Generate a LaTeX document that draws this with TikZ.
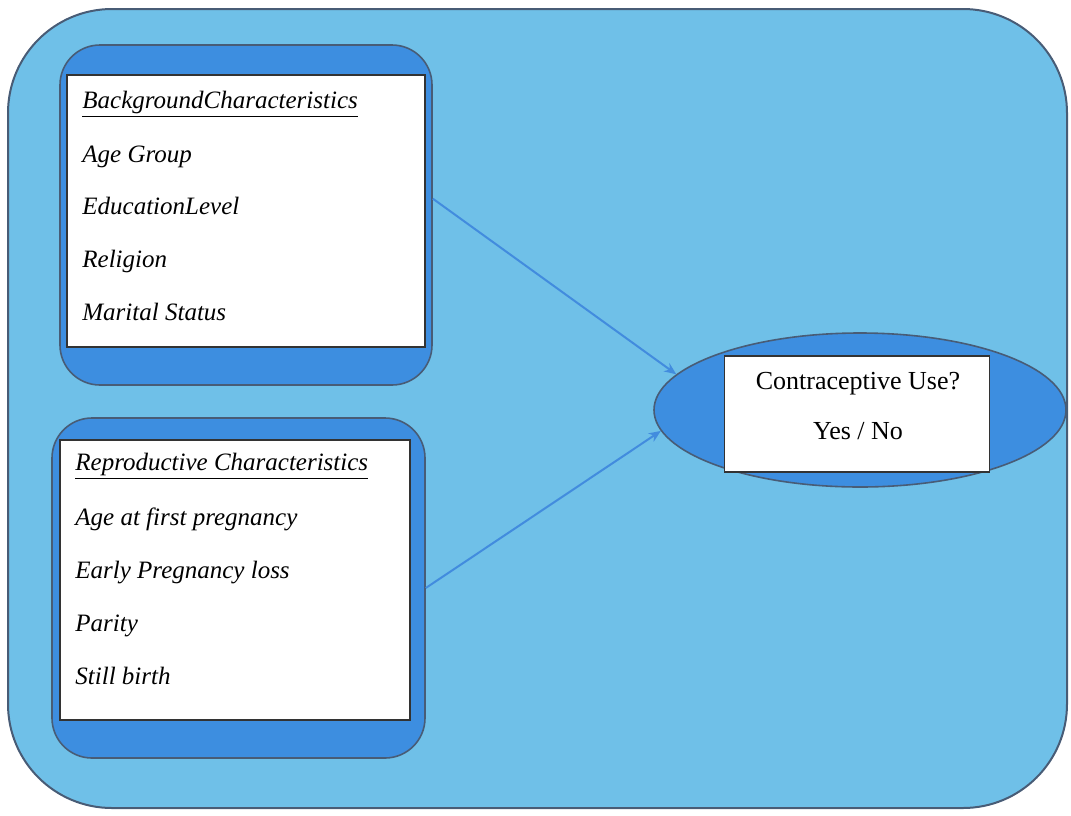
\documentclass[tikz,border=0pt]{standalone}
\usepackage{fontspec}
\setmainfont{Liberation Serif}
\usepackage{tikz}
\usetikzlibrary{positioning, shapes.geometric, arrows.meta}
\definecolor{skyfill}{RGB}{111,192,232}
\definecolor{groupfill}{RGB}{61,142,224}
\definecolor{edgegray}{RGB}{72,92,118}
\definecolor{arrowblue}{RGB}{66,140,222}
\tikzset{
	groupbox/.style={draw=edgegray, line width=0.8pt, fill=groupfill, rounded corners=20pt, inner sep=0pt}
}
\tikzset{
	whitebox/.style={draw=black!80, line width=0.8pt, fill=white, inner sep=0pt}
}
\tikzset{
	itemtext/.style={anchor=base west, inner sep=0pt, font=\fontsize{12.5}{15}\selectfont\itshape}
}
\tikzset{
	link/.style={draw=arrowblue, line width=1pt, -{Stealth[length=6pt,width=5pt]}}
}

\begin{document}
\begin{tikzpicture}[x=0.5pt, y=-0.5pt]
      \useasboundingbox (0,0) rectangle (1071,815);
      \draw[draw=edgegray, line width=1pt, fill=skyfill, rounded corners=52pt] (8,9) rectangle (1067,808);
      \node[groupbox, minimum width=186pt, minimum height=170pt] (bg) at (246,215) {};
      \node[whitebox, minimum width=179pt, minimum height=136pt] (bgbox) at (246,211) {};
      \node[itemtext] (bghead) at (82,108) {\underline{BackgroundCharacteristics}};
      \node[itemtext] (age) at (82,162) {Age Group};
      \node[itemtext] (edu) at (82,214) {EducationLevel};
      \node[itemtext] (rel) at (82,267) {Religion};
      \node[itemtext] (mar) at (82,320) {Marital Status};
      \node[groupbox, minimum width=186.5pt, minimum height=170pt] (rc) at (238.5,588) {};
      \node[whitebox, minimum width=175pt, minimum height=140pt] (rcbox) at (235,580) {};
      \node[itemtext] (rchead) at (75,470) {\underline{Reproductive Characteristics}};
      \node[itemtext] (firstpreg) at (75,525) {Age at first pregnancy};
      \node[itemtext] (loss) at (75,578) {Early Pregnancy loss};
      \node[itemtext] (parity) at (75,631) {Parity};
      \node[itemtext] (still) at (75,684) {Still birth};
      \node[ellipse, draw=edgegray, line width=0.8pt, fill=groupfill, minimum width=206pt, minimum height=77pt, inner sep=0pt] (use) at (860,410) {};
      \node[whitebox, minimum width=132.5pt, minimum height=58pt] (usebox) at (857,414) {};
      \node[anchor=base, inner sep=0pt, font=\fontsize{13}{15}\selectfont] (q) at (858,389) {Contraceptive Use?};
      \node[anchor=base, inner sep=0pt, font=\fontsize{13}{15}\selectfont] (yn) at (858,439) {Yes / No};
      \draw[link] (bg.5.5) -- (use.169.8);
      \draw[link] (rc.east) -- (use.186.4);
    \end{tikzpicture}
\end{document}
